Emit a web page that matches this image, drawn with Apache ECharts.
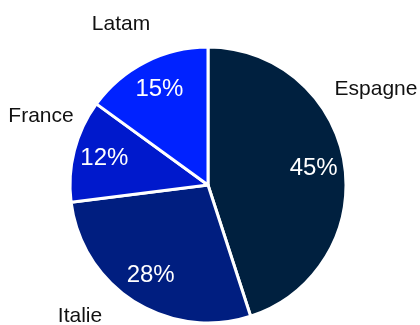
<!DOCTYPE html>
<html>
<head>
<meta charset="utf-8">
<script src="https://cdn.jsdelivr.net/npm/echarts@6/dist/echarts.min.js"></script>
<style>html,body{margin:0;padding:0;background:#fff;}#c{width:420px;height:325px;}</style>
</head>
<body>
<div id="c"></div>
<script>
const categories = ['Espagne', 'Italie', 'France', 'Latam'];
const values = [45, 28, 12, 15];
const colors = ['#00203F', '#001E80', '#0019CC', '#0022FF'];
// outside label anchor points (layout only)
const labelPos = [[376, 89], [80, 316], [41, 116], [121, 24]];

const chart = echarts.init(document.getElementById('c'), null, {renderer: 'canvas'});
const data = categories.map((n, i) => ({name: n, value: values[i], itemStyle: {color: colors[i]}}));
const center = [208, 185];
chart.setOption({
  animation: false,
  series: [
    {
      type: 'pie',
      center: center,
      radius: [0, 138],
      startAngle: 90,
      clockwise: true,
      data: data,
      itemStyle: {borderColor: '#fff', borderWidth: 3},
      label: {
        show: true, position: 'outside', formatter: '{b}', overflow: 'none', width: 200,
        fontFamily: 'Liberation Sans, Arial, sans-serif', fontSize: 21, color: '#111'
      },
      labelLine: {show: false},
      labelLayout: function (p) {
        const pt = labelPos[p.dataIndex];
        return {x: pt[0], y: pt[1], align: 'center', verticalAlign: 'middle'};
      },
      emphasis: {disabled: true}
    },
    {
      type: 'pie',
      center: center,
      radius: [70, 138],
      startAngle: 90,
      clockwise: true,
      silent: true,
      data: categories.map((n, i) => ({name: n, value: values[i]})),
      itemStyle: {color: 'rgba(0,0,0,0)', borderWidth: 0},
      label: {
        show: true, position: 'inside', formatter: '{c}%',
        fontFamily: 'Liberation Sans, Arial, sans-serif', fontSize: 24, color: '#fff'
      },
      labelLine: {show: false},
      emphasis: {disabled: true}
    }
  ]
});
</script>
</body>
</html>
